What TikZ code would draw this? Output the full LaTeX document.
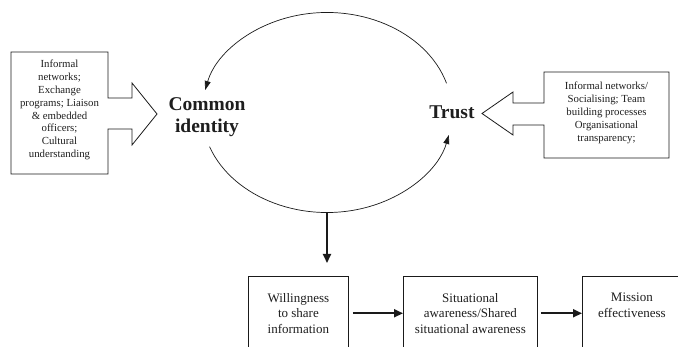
\documentclass[tikz,border=0pt]{standalone}
\usepackage{fontspec}
\setmainfont{Liberation Serif}
\usetikzlibrary{arrows.meta,positioning}
\definecolor{cyLine}{HTML}{1A1A1A}
\definecolor{cyText}{HTML}{1E1E1E}

\begin{document}
\begin{tikzpicture}[
      x=1pt, y=-1pt,
      >={Triangle[length=9pt, width=8pt]},
      blockarrow/.style={draw=cyLine, line width=0.8pt, line join=miter},
      smalltxt/.style={align=center, inner sep=0pt, text=cyText,
                  font=\fontsize{10.8}{12.9}\selectfont},
      keytxt/.style={align=center, inner sep=0pt, text=cyText,
                  font=\fontsize{19.5}{22}\selectfont\bfseries},
      flowbox/.style={draw=cyLine, line width=0.8pt, anchor=north west, inner sep=0pt,
                  minimum height=90pt},
      flowtxt/.style={align=center, inner sep=0pt, anchor=north, text=cyText,
                  font=\fontsize{13}{15.5}\selectfont},
      loopline/.style={draw=cyLine, line width=0.7pt, -{Triangle[length=9pt, width=6pt]}},
      flowarrow/.style={draw=cyLine, line width=1.8pt, ->},
    ]

    \clip (0,0) rectangle (678,347);

    % ---------- caja izquierda con flecha ----------
    \draw[blockarrow] (11,52) -- (108,52) -- (108,98) -- (132,98) -- (132,83)
      -- (157,114) -- (132,145) -- (132,129) -- (108,129) -- (108,174) -- (11,174) -- cycle;
    \node[smalltxt] (infoL) at (59.5,110)
      {Informal\\ networks;\\ Exchange\\ programs; Liaison\\ \& embedded\\ officers;\\ Cultural\\ understanding};

    % ---------- caja derecha con flecha ----------
    \draw[blockarrow] (544,72) -- (669,72) -- (669,158) -- (544,158) -- (544,125) -- (513,125)
      -- (513,135) -- (482,113.5) -- (513,92) -- (513,103) -- (544,103) -- cycle;
    \node[smalltxt] (infoR) at (606.5,113)
      {Informal networks/\\ Socialising; Team\\ building processes\\ Organisational\\ transparency;};

    % ---------- ciclo ----------
    \node[keytxt] (ci)    at (207,117) {Common\\ identity};
    \node[keytxt] (trust) at (452,112) {Trust};

    \coordinate (loop) at (327,112.5);
    \draw[loopline] ([shift={(17:125pt and 100pt)}]loop)
      arc[start angle=17, end angle=167, x radius=125pt, y radius=100pt];
    \draw[loopline] ([shift={(200:125pt and 100pt)}]loop)
      arc[start angle=200, end angle=347, x radius=125pt, y radius=100pt];

    \path (loop) ++(0,100.5) coordinate (loopS);
    \draw[flowarrow] (loopS) -- ++(0,50);

    % ---------- cadena inferior ----------
    \node[flowbox, minimum width=100pt] (willbox) at (248,276) {};
    \node[flowbox, minimum width=134pt] (sitbox)  at (403,276) {};
    \node[flowbox, minimum width=99pt]  (misbox)  at (582,276) {};

    \node[flowtxt, below=17pt of willbox.north] (willtxt) {Willingness\\ to share\\ information};
    \node[flowtxt, below=17pt of sitbox.north]  (sittxt)  {Situational\\ awareness/Shared\\ situational awareness};
    \node[flowtxt, below=17pt of misbox.north]  (mistxt)  {Mission\\ effectiveness};

    \draw[flowarrow, shorten <=4pt] (willbox.east |- willtxt) -- (sitbox.west |- willtxt);
    \draw[flowarrow, shorten <=3pt] (sitbox.east |- sittxt) -- (misbox.west |- sittxt);

  \end{tikzpicture}
\end{document}
